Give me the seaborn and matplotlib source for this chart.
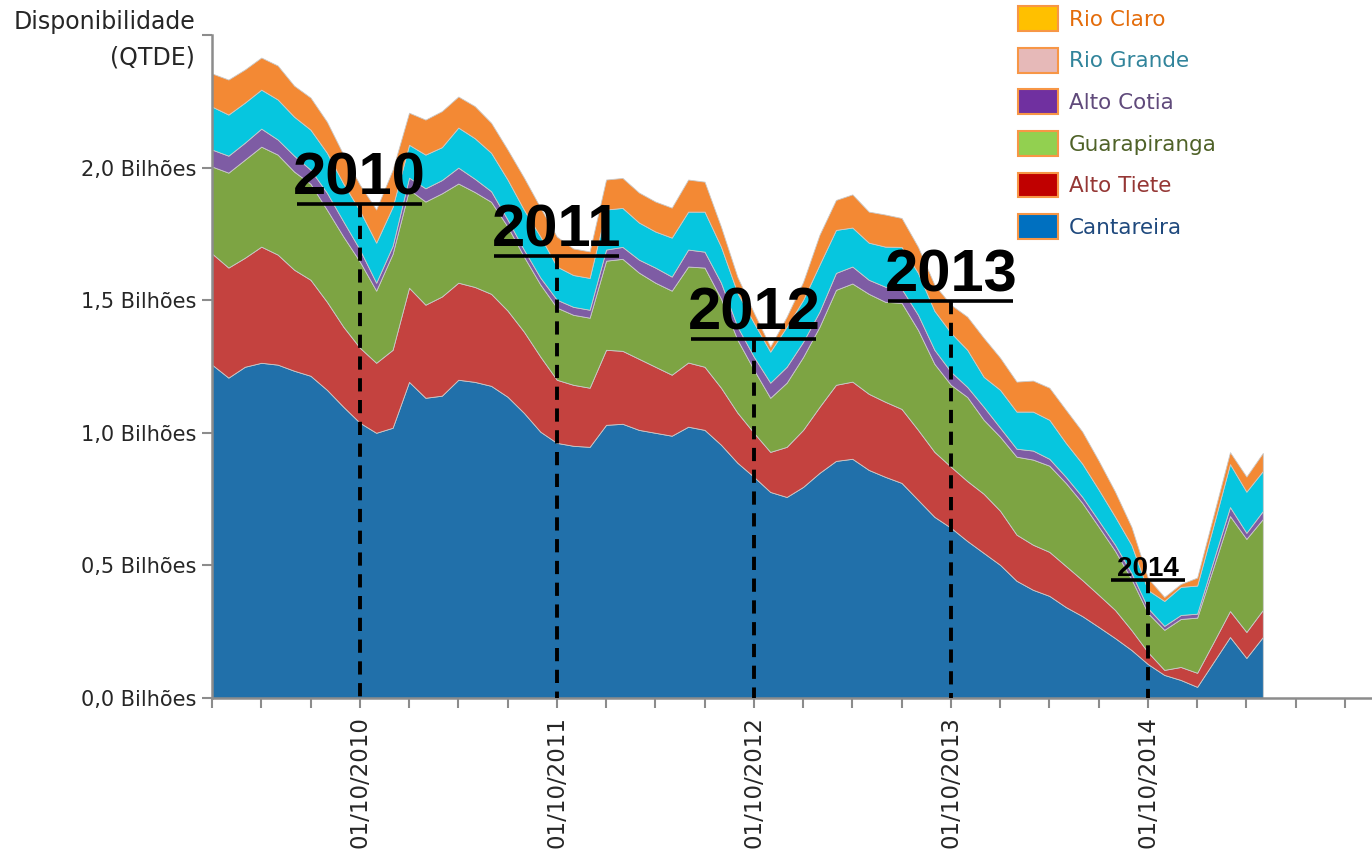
import numpy as np
import pandas as pd
import seaborn as sns
import matplotlib.pyplot as plt
from matplotlib.patches import Patch

# monthly volumes (billions), Jan/2010 .. May/2015
months = pd.date_range("2010-01-01", "2015-05-01", freq="MS")

cantareira = [1.257, 1.208, 1.249, 1.264, 1.257, 1.234, 1.215, 1.162, 1.098, 1.038,
              1.000, 1.019, 1.192, 1.132, 1.140, 1.200, 1.192, 1.177, 1.136, 1.075,
              1.004, 0.962, 0.951, 0.947, 1.030, 1.034, 1.011, 1.000, 0.989, 1.023,
              1.011, 0.955, 0.887, 0.834, 0.777, 0.758, 0.796, 0.849, 0.894, 0.902,
              0.860, 0.834, 0.811, 0.747, 0.683, 0.642, 0.592, 0.547, 0.502, 0.442,
              0.408, 0.385, 0.343, 0.309, 0.268, 0.226, 0.181, 0.128, 0.087, 0.068,
              0.042, 0.136, 0.230, 0.151, 0.230]
alto_tiete = [0.419, 0.415, 0.411, 0.438, 0.415, 0.381, 0.362, 0.332, 0.302, 0.283,
              0.264, 0.294, 0.355, 0.351, 0.374, 0.366, 0.358, 0.347, 0.325, 0.306,
              0.283, 0.238, 0.230, 0.223, 0.283, 0.275, 0.268, 0.249, 0.230, 0.242,
              0.238, 0.215, 0.189, 0.166, 0.151, 0.189, 0.215, 0.249, 0.287, 0.291,
              0.287, 0.283, 0.279, 0.264, 0.245, 0.230, 0.226, 0.223, 0.204, 0.174,
              0.170, 0.166, 0.155, 0.136, 0.121, 0.106, 0.075, 0.045, 0.019, 0.049,
              0.053, 0.075, 0.098, 0.098, 0.102]
guarapiranga = [0.328, 0.358, 0.370, 0.377, 0.377, 0.370, 0.362, 0.347, 0.340, 0.325,
                0.272, 0.362, 0.370, 0.389, 0.389, 0.374, 0.358, 0.347, 0.317, 0.283,
                0.272, 0.272, 0.264, 0.264, 0.336, 0.347, 0.325, 0.317, 0.317, 0.362,
                0.374, 0.336, 0.275, 0.238, 0.204, 0.242, 0.275, 0.302, 0.358, 0.370,
                0.377, 0.377, 0.400, 0.377, 0.332, 0.309, 0.317, 0.279, 0.279, 0.294,
                0.321, 0.325, 0.313, 0.291, 0.257, 0.223, 0.192, 0.147, 0.151, 0.181,
                0.208, 0.283, 0.358, 0.351, 0.343]
alto_cotia = [0.064, 0.064, 0.064, 0.068, 0.057, 0.060, 0.053, 0.064, 0.057, 0.045,
              0.030, 0.030, 0.045, 0.050, 0.050, 0.060, 0.050, 0.040, 0.026, 0.026,
              0.026, 0.030, 0.030, 0.030, 0.042, 0.045, 0.049, 0.057, 0.053, 0.064,
              0.060, 0.060, 0.049, 0.049, 0.057, 0.060, 0.057, 0.057, 0.064, 0.064,
              0.053, 0.057, 0.053, 0.057, 0.053, 0.049, 0.038, 0.049, 0.034, 0.030,
              0.034, 0.026, 0.023, 0.023, 0.023, 0.023, 0.023, 0.019, 0.015, 0.015,
              0.015, 0.026, 0.034, 0.023, 0.030]
rio_grande = [0.162, 0.155, 0.151, 0.147, 0.151, 0.147, 0.151, 0.151, 0.143, 0.147,
              0.151, 0.147, 0.124, 0.127, 0.124, 0.151, 0.153, 0.145, 0.151, 0.151,
              0.155, 0.125, 0.120, 0.120, 0.151, 0.147, 0.140, 0.136, 0.147, 0.143,
              0.151, 0.136, 0.128, 0.128, 0.117, 0.151, 0.158, 0.177, 0.162, 0.147,
              0.140, 0.151, 0.158, 0.158, 0.147, 0.147, 0.140, 0.113, 0.143, 0.140,
              0.147, 0.147, 0.128, 0.125, 0.117, 0.106, 0.106, 0.068, 0.094, 0.106,
              0.106, 0.132, 0.162, 0.155, 0.151]
rio_claro = [0.125, 0.132, 0.125, 0.121, 0.128, 0.117, 0.121, 0.117, 0.109, 0.098,
             0.125, 0.140, 0.121, 0.132, 0.136, 0.117, 0.121, 0.113, 0.113, 0.121,
             0.109, 0.113, 0.100, 0.100, 0.113, 0.113, 0.113, 0.113, 0.113, 0.121,
             0.113, 0.075, 0.060, 0.038, 0.019, 0.038, 0.068, 0.113, 0.113, 0.125,
             0.117, 0.121, 0.109, 0.098, 0.098, 0.106, 0.125, 0.147, 0.121, 0.113,
             0.117, 0.121, 0.125, 0.121, 0.109, 0.094, 0.068, 0.045, 0.015, 0.011,
             0.030, 0.038, 0.045, 0.057, 0.068]

series_names = ["Cantareira", "Alto Tiete", "Guarapiranga", "Alto Cotia", "Rio Grande", "Rio Claro"]
area_colors = ["#2170AA", "#C4423F", "#7DA443", "#7E5CA4", "#06C6DF", "#F38934"]
legend_colors = ["#0070C0", "#C00000", "#92D050", "#7030A0", "#E6B9B8", "#FFC000"]
legend_text_colors = ["#1F497D", "#953735", "#4F6228", "#604A7B", "#31849B", "#E46C0A"]

years = ["2010", "2011", "2012", "2013", "2014"]
# height of the underline for each year marker (billions)
year_marks = [1.864, 1.668, 1.355, 1.498, 0.445]

sns.set_theme(style="white")
plt.rcParams["font.family"] = ["DejaVu Sans"]

fig = plt.figure(figsize=(13.72, 8.56), dpi=100)
ax = fig.add_axes([212 / 1372, 158 / 856, 1160 / 1372, 663 / 856])

x = np.arange(len(months))
ax.stackplot(x, cantareira, alto_tiete, guarapiranga, alto_cotia, rio_grande, rio_claro,
             colors=area_colors, linewidth=0.6, edgecolor="#c9c9c9")

ax.set_xlim(0, 70.65)
ax.set_ylim(0, 2.5)

yt = [0, 0.5, 1.0, 1.5, 2.0, 2.5]
ax.set_yticks(yt)
ax.set_yticklabels([f"{v:.1f}".replace(".", ",") + " Bilhões" for v in yt[:-1]] + [""])

october = np.where(months.month == 10)[0]
xt = np.arange(0, 70, 3)
ax.set_xticks(xt)
ax.set_xticklabels([months[i].strftime("%d/%m/%Y") if i in october else "" for i in xt],
                   rotation=90, va="top")

for s in ["top", "right"]:
    ax.spines[s].set_visible(False)
for s in ["left", "bottom"]:
    ax.spines[s].set_color("#8c8c8c")
    ax.spines[s].set_linewidth(1.8)
ax.tick_params(axis="both", direction="out", length=7, width=1.5, color="#8c8c8c",
               labelcolor="#262626", bottom=True, left=True)
ax.tick_params(axis="y", labelsize=15, pad=4)
ax.tick_params(axis="x", labelsize=16.5, pad=6)
ax.grid(False)

# year markers
for i, (yr, h) in enumerate(zip(years, year_marks)):
    pos = october[i]
    small = yr == "2014"
    hw = 2.25 if small else 3.8
    ax.plot([pos, pos], [h, 0], color="black", lw=2.8, ls=(0, (3.4, 2.2)), zorder=5)
    ax.plot([pos - hw, pos + hw], [h, h], color="black", lw=2.6, solid_capstyle="butt", zorder=5)
    ax.text(pos, h + (0.015 if small else 0.034), yr, ha="center", va="baseline",
            fontsize=20 if small else 43, fontweight="bold",
            family=["Liberation Sans", "DejaVu Sans"], color="black", zorder=6)

fig.text(195 / 1372, 1 - 22 / 856, "Disponibilidade", ha="right", va="center",
         fontsize=17, color="#262626")
fig.text(195 / 1372, 1 - 57 / 856, "(QTDE)", ha="right", va="center",
         fontsize=17, color="#262626")

handles = [Patch(facecolor=c, edgecolor="#F79646", linewidth=1.5) for c in legend_colors[::-1]]
leg = fig.legend(handles, series_names[::-1], loc="upper left",
                 bbox_to_anchor=(1018 / 1372, 1 - 6 / 856), frameon=False, fontsize=15.5,
                 handlelength=1.85, handleheight=1.4, labelspacing=0.78, handletextpad=0.5,
                 borderpad=0, borderaxespad=0)
for t, c in zip(leg.get_texts(), legend_text_colors[::-1]):
    t.set_color(c)

fig.savefig("out.png", dpi=100)
